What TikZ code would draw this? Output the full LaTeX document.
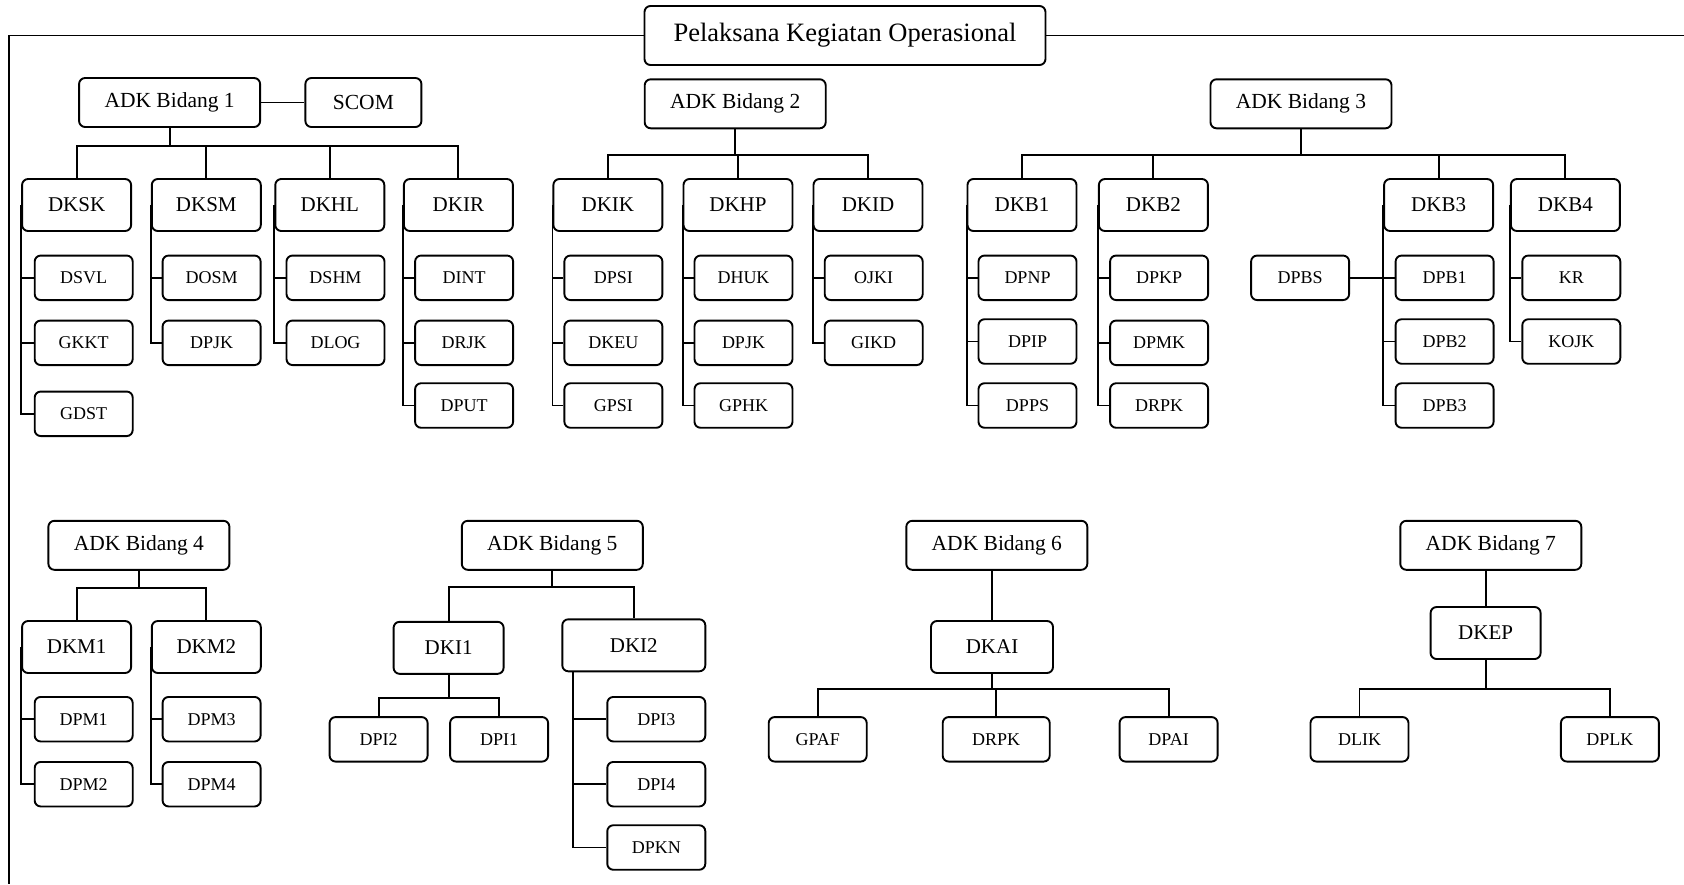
\documentclass[tikz,border=0pt]{standalone}
\usepackage{fontspec}
\setmainfont{Liberation Serif}
\begin{document}
\begin{tikzpicture}[x=1pt,y=-1pt,
  box/.style={draw, rounded corners=6pt, line width=1.9pt, inner sep=0pt, align=center},
  titlebox/.style={box, minimum width=401, minimum height=59, font=\fontsize{26.5}{26.5}\selectfont},
  adkbox/.style={box, minimum width=181, minimum height=49, font=\fontsize{21.5}{21.5}\selectfont},
  bigbox/.style={box, minimum width=109, minimum height=52, font=\fontsize{21}{21}\selectfont},
  smallbox/.style={box, minimum width=98, minimum height=44.5, font=\fontsize{18}{18}\selectfont},
  conn/.style={line width=1.9pt}]
\useasboundingbox (0,0) rectangle (1684,884);

% title and frame
\node[titlebox] (title) at (845,35.5) {Pelaksana Kegiatan Operasional};
\coordinate (fl) at (9,884);
\coordinate (fr) at (1684,35.5);
\draw[conn] (title.west) -| (fl);
\draw[conn] (title.east) -- (fr);

% ---------------- ADK Bidang 1 ----------------
\node[adkbox] (adk1) at (169.6,102.5) {ADK Bidang 1};
\node[adkbox, minimum width=116] (scom) at (363.4,102.5) {SCOM};
\node[bigbox] (dksk) at (76.6,205) {DKSK};
\node[bigbox] (dksm) at (206.3,205) {DKSM};
\node[bigbox] (dkhl) at (329.8,205) {DKHL};
\node[bigbox] (dkir) at (458.4,205) {DKIR};
\node[smallbox] (dsvl) at (83.7,277.8) {DSVL};
\node[smallbox] (gkkt) at (83.7,342.8) {GKKT};
\node[smallbox] (gdst) at (83.7,413.8) {GDST};
\node[smallbox] (dosm) at (211.6,277.8) {DOSM};
\node[smallbox] (dpjka) at (211.6,342.8) {DPJK};
\node[smallbox] (dshm) at (335.5,277.8) {DSHM};
\node[smallbox] (dlog) at (335.5,342.8) {DLOG};
\node[smallbox] (dint) at (464.1,277.8) {DINT};
\node[smallbox] (drjk) at (464.1,342.8) {DRJK};
\node[smallbox] (dput) at (464.1,405.5) {DPUT};

\draw[conn] (adk1.east) -- (scom.west);
\draw[conn] (adk1.south) -- ++(0,18) coordinate (b1);
\draw[conn] (dksk.north) |- (b1) -| (dkir.north);
\draw[conn] (dksm.north) -- (dksm.north |- b1);
\draw[conn] (dkhl.north) -- (dkhl.north |- b1);

\draw[conn] (dksk.west) |- (gdst.west);
\draw[conn] (dksk.west |- dsvl.west) -- (dsvl.west);
\draw[conn] (dksk.west |- gkkt.west) -- (gkkt.west);
\draw[conn] (dksm.west) |- (dpjka.west);
\draw[conn] (dksm.west |- dosm.west) -- (dosm.west);
\draw[conn] (dkhl.west) |- (dlog.west);
\draw[conn] (dkhl.west |- dshm.west) -- (dshm.west);
\draw[conn] (dkir.west) |- (dput.west);
\draw[conn] (dkir.west |- dint.west) -- (dint.west);
\draw[conn] (dkir.west |- drjk.west) -- (drjk.west);

% ---------------- ADK Bidang 2 ----------------
\node[adkbox] (adk2) at (735.2,103.8) {ADK Bidang 2};
\node[bigbox] (dkik) at (607.9,205) {DKIK};
\node[bigbox] (dkhp) at (738,205) {DKHP};
\node[bigbox] (dkid) at (868,205) {DKID};
\node[smallbox] (dpsi) at (613.4,277.8) {DPSI};
\node[smallbox] (dkeu) at (613.4,342.8) {DKEU};
\node[smallbox] (gpsi) at (613.4,405.5) {GPSI};
\node[smallbox] (dhuk) at (743.5,277.8) {DHUK};
\node[smallbox] (dpjkb) at (743.5,342.8) {DPJK};
\node[smallbox] (gphk) at (743.5,405.5) {GPHK};
\node[smallbox] (ojki) at (873.7,277.8) {OJKI};
\node[smallbox] (gikd) at (873.7,342.8) {GIKD};

\draw[conn] (adk2.south) -- ++(0,26) coordinate (b2);
\draw[conn] (dkik.north) |- (b2) -| (dkid.north);
\draw[conn] (dkhp.north) -- (dkhp.north |- b2);
\draw[conn] (dkik.west) |- (gpsi.west);
\draw[conn] (dkik.west |- dpsi.west) -- (dpsi.west);
\draw[conn] (dkik.west |- dkeu.west) -- (dkeu.west);
\draw[conn] (dkhp.west) |- (gphk.west);
\draw[conn] (dkhp.west |- dhuk.west) -- (dhuk.west);
\draw[conn] (dkhp.west |- dpjkb.west) -- (dpjkb.west);
\draw[conn] (dkid.west) |- (gikd.west);
\draw[conn] (dkid.west |- ojki.west) -- (ojki.west);

% ---------------- ADK Bidang 3 ----------------
\node[adkbox] (adk3) at (1301,103.8) {ADK Bidang 3};
\node[bigbox] (dkb1) at (1022,205) {DKB1};
\node[bigbox] (dkb2) at (1153.4,205) {DKB2};
\node[bigbox] (dkb3) at (1438.6,205) {DKB3};
\node[bigbox] (dkb4) at (1565.4,205) {DKB4};
\node[smallbox] (dpnp) at (1027.5,277.8) {DPNP};
\node[smallbox] (dpip) at (1027.5,341.5) {DPIP};
\node[smallbox] (dpps) at (1027.5,405.5) {DPPS};
\node[smallbox] (dpkp) at (1159.1,277.8) {DPKP};
\node[smallbox] (dpmk) at (1159.1,342.8) {DPMK};
\node[smallbox] (drpka) at (1159.1,405.5) {DRPK};
\node[smallbox] (dpbs) at (1300.1,277.8) {DPBS};
\node[smallbox] (dpba) at (1444.6,277.8) {DPB1};
\node[smallbox] (dpbb) at (1444.6,341.5) {DPB2};
\node[smallbox] (dpbc) at (1444.6,405.5) {DPB3};
\node[smallbox] (kr) at (1571.3,277.8) {KR};
\node[smallbox] (kojk) at (1571.3,341.5) {KOJK};

\draw[conn] (adk3.south) -- ++(0,26) coordinate (b3);
\draw[conn] (dkb1.north) |- (b3) -| (dkb4.north);
\draw[conn] (dkb2.north) -- (dkb2.north |- b3);
\draw[conn] (dkb3.north) -- (dkb3.north |- b3);
\draw[conn] (dkb1.west) |- (dpps.west);
\draw[conn] (dkb1.west |- dpnp.west) -- (dpnp.west);
\draw[conn] (dkb1.west |- dpip.west) -- (dpip.west);
\draw[conn] (dkb2.west) |- (drpka.west);
\draw[conn] (dkb2.west |- dpkp.west) -- (dpkp.west);
\draw[conn] (dkb2.west |- dpmk.west) -- (dpmk.west);
\draw[conn] (dkb3.west) |- (dpbc.west);
\draw[conn] (dpbs.east) -- (dpba.west);
\draw[conn] (dkb3.west |- dpbb.west) -- (dpbb.west);
\draw[conn] (dkb4.west) |- (kojk.west);
\draw[conn] (dkb4.west |- kr.west) -- (kr.west);

% ---------------- ADK Bidang 4 ----------------
\node[adkbox] (adk4) at (138.9,545.3) {ADK Bidang 4};
\node[bigbox] (dkm1) at (76.6,647) {DKM1};
\node[bigbox] (dkm2) at (206.3,647) {DKM2};
\node[smallbox] (dpm1) at (83.7,719.2) {DPM1};
\node[smallbox] (dpm2) at (83.7,784.2) {DPM2};
\node[smallbox] (dpm3) at (211.6,719.2) {DPM3};
\node[smallbox] (dpm4) at (211.6,784.2) {DPM4};

\draw[conn] (adk4.south) -- ++(0,17) coordinate (b4);
\draw[conn] (dkm1.north) |- (b4) -| (dkm2.north);
\draw[conn] (dkm1.west) |- (dpm2.west);
\draw[conn] (dkm1.west |- dpm1.west) -- (dpm1.west);
\draw[conn] (dkm2.west) |- (dpm4.west);
\draw[conn] (dkm2.west |- dpm3.west) -- (dpm3.west);

% ---------------- ADK Bidang 5 ----------------
\node[adkbox] (adk5) at (552.3,545.3) {ADK Bidang 5};
\node[bigbox, minimum width=110] (dki1) at (448.6,647.8) {DKI1};
\node[bigbox, minimum width=143] (dki2) at (633.8,645.3) {DKI2};
\node[smallbox] (dpib) at (378.6,739.3) {DPI2};
\node[smallbox] (dpia) at (499.1,739.3) {DPI1};
\node[smallbox] (dpic) at (656.3,719.2) {DPI3};
\node[smallbox] (dpid) at (656.3,784.2) {DPI4};
\node[smallbox] (dpkn) at (656.3,847.5) {DPKN};

\draw[conn] (adk5.south) -- ++(0,16.5) coordinate (b5);
\draw[conn] (dki1.north) |- (b5) -| (dki2.north);
\draw[conn] (dki1.south) -- ++(0,23) coordinate (b5a);
\draw[conn] (dpib.north) |- (b5a) -| (dpia.north);
\draw[conn] ([xshift=12pt]dki2.south west) coordinate (k2) |- (dpkn.west);
\draw[conn] (k2 |- dpic.west) -- (dpic.west);
\draw[conn] (k2 |- dpid.west) -- (dpid.west);

% ---------------- ADK Bidang 6 ----------------
\node[adkbox] (adk6) at (996.8,545.3) {ADK Bidang 6};
\node[bigbox, minimum width=122] (dkai) at (992,647) {DKAI};
\node[smallbox] (gpaf) at (817.7,739.3) {GPAF};
\node[smallbox, minimum width=107] (drpkb) at (996.2,739.3) {DRPK};
\node[smallbox] (dpai) at (1168.6,739.3) {DPAI};

\draw[conn] (dkai.north) -- (dkai.north |- adk6.south);
\draw[conn] (dkai.south) -- ++(0,14.7) coordinate (b6);
\draw[conn] (gpaf.north) |- (b6) -| (dpai.north);
\draw[conn] (drpkb.north) -- (drpkb.north |- b6);

% ---------------- ADK Bidang 7 ----------------
\node[adkbox] (adk7) at (1490.8,545.3) {ADK Bidang 7};
\node[bigbox, minimum width=110] (dkep) at (1485.6,633) {DKEP};
\node[smallbox] (dlik) at (1359.5,739.3) {DLIK};
\node[smallbox] (dplk) at (1609.9,739.3) {DPLK};

\draw[conn] (dkep.north) -- (dkep.north |- adk7.south);
\draw[conn] (dkep.south) -- ++(0,28.7) coordinate (b7);
\draw[conn] (dlik.north) |- (b7) -| (dplk.north);
\end{tikzpicture}
\end{document}
